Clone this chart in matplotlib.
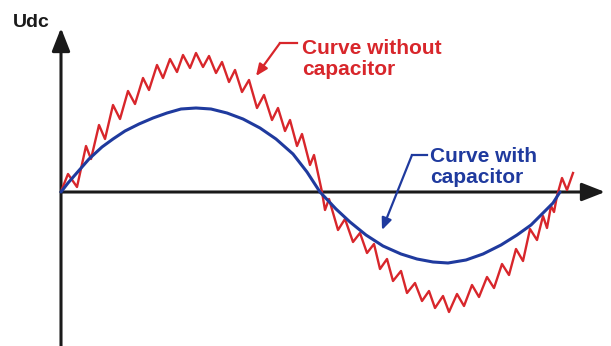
import matplotlib
matplotlib.use("Agg")
import matplotlib.pyplot as plt

# curve with capacitor (x, y measured from the origin of the axes, in px)
blue_x = [0, 7, 14, 21, 28, 41, 52, 64, 78, 92, 106, 120, 135, 150, 166, 182, 199, 215,
          232, 246, 259, 275, 289, 305, 322, 340, 356, 372, 387, 405, 422, 440, 456,
          470, 482, 492, 499]
blue_y = [0, 9, 17, 25, 33, 45, 53, 61, 68, 74, 79, 83, 84, 83, 79, 73, 64, 53,
          38, 20, 0, -17, -30, -43, -54, -62, -67, -70, -71, -68, -62, -53, -43,
          -33, -21, -11, 0]

# curve without capacitor: ripple peaks and troughs in order
red_x = [1, 7, 16, 25, 30, 38, 44, 52, 59, 67, 74, 82, 88, 96, 102, 109, 116, 122, 129,
         135, 142, 148, 155, 161, 168, 174, 181, 188, 196, 203, 211, 217, 224, 229,
         236, 241, 249, 253, 261, 264, 268, 277, 284, 292, 299, 306, 313, 319, 326,
         332, 340, 346, 354, 361, 368, 374, 382, 388, 396, 403, 411, 418, 426, 433,
         441, 448, 455, 462, 469, 476, 482, 486, 490, 493, 496, 501, 506, 512]
red_y = [3, 18, 5, 46, 33, 67, 53, 87, 73, 101, 88, 114, 102, 127, 114, 133, 120, 137, 124,
         139, 125, 136, 119, 130, 110, 122, 100, 112, 84, 97, 72, 84, 61, 72,
         46, 58, 27, 37, 0, -18, -7, -38, -27, -50, -41, -61, -52, -77, -67,
         -89, -79, -101, -91, -109, -99, -116, -104, -120, -102, -114, -93, -105, -85, -96,
         -72, -83, -57, -69, -37, -48, -24, -36, -14, -20, -4, 14, 2, 19]

y_label = "Udc"
red_label = "Curve without\ncapacitor"
blue_label = "Curve with\ncapacitor"

red = "#d8262b"
blue = "#1f3a9e"
ink = "#1a1a1a"

fig = plt.figure(figsize=(6.11, 3.46), dpi=100)
ax = fig.add_axes([0, 0, 1, 1])
ax.set_xlim(-61, 550)
ax.set_ylim(-154, 192)
ax.axis("off")

# axes with arrow heads
axis_arrow = dict(arrowstyle="-|>,head_length=14,head_width=5.5", mutation_scale=1,
                  color=ink, lw=2.2, shrinkA=0, shrinkB=0)
ax.annotate("", xy=(0, 164), xytext=(0, -154), arrowprops=axis_arrow)
ax.annotate("", xy=(544, 0), xytext=(0, 0), arrowprops=axis_arrow)

ax.plot(red_x, red_y, color=red, lw=1.7, solid_joinstyle="round", zorder=3)
ax.plot(blue_x, blue_y, color=blue, lw=2.2, solid_capstyle="round", zorder=4)

font = dict(family=["Liberation Sans", "DejaVu Sans"], weight="bold")
ax.text(-48, 165, y_label, color=ink, fontsize=14, va="baseline", ha="left", **font)
# baseline given is that of the second line
ax.text(241, 117, red_label, color=red, fontsize=15, va="baseline", ha="left",
        linespacing=1.1, **font)
ax.text(369, 9, blue_label, color=blue, fontsize=15, va="baseline", ha="left",
        linespacing=1.1, **font)

# pointer arrows
ax.plot([236, 219], [149, 149], color=red, lw=1.6)
ax.annotate("", xy=(195, 116), xytext=(219, 149),
            arrowprops=dict(arrowstyle="-|>,head_length=7,head_width=3", mutation_scale=1,
                            color=red, lw=1.6, shrinkA=0, shrinkB=0))
ax.plot([366, 351], [37, 37], color=blue, lw=1.6)
ax.annotate("", xy=(321, -38), xytext=(351, 37),
            arrowprops=dict(arrowstyle="-|>,head_length=7,head_width=3", mutation_scale=1,
                            color=blue, lw=1.6, shrinkA=0, shrinkB=0))

fig.savefig("out.png", dpi=100, facecolor="white")
